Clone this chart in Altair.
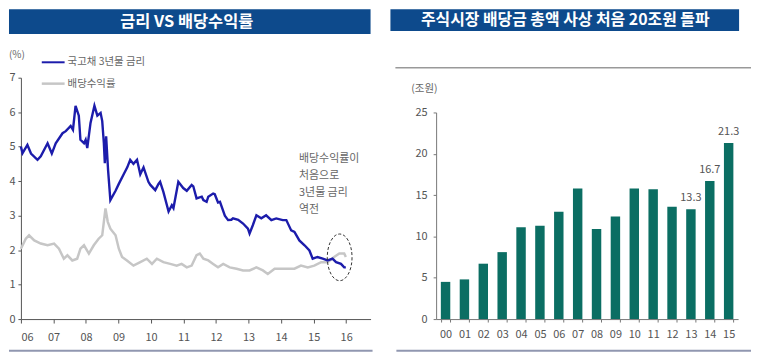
import altair as alt
import pandas as pd

# ---------------- data ----------------
blue_year = [2006.00, 2006.05, 2006.20, 2006.31, 2006.51, 2006.61, 2006.82, 2006.95, 2007.07, 2007.28,
             2007.38, 2007.53, 2007.60, 2007.68, 2007.78, 2007.83, 2007.94, 2007.99, 2008.04, 2008.14,
             2008.26, 2008.35, 2008.45, 2008.50, 2008.55, 2008.58, 2008.62, 2008.68, 2008.75, 2008.91,
             2009.01, 2009.16, 2009.27, 2009.36, 2009.46, 2009.57, 2009.67, 2009.77, 2009.92, 2009.98,
             2010.13, 2010.23, 2010.28, 2010.38, 2010.54, 2010.64, 2010.69, 2010.84, 2010.99, 2011.10,
             2011.25, 2011.30, 2011.40, 2011.56, 2011.61, 2011.71, 2011.76, 2011.91, 2011.96, 2012.06,
             2012.12, 2012.27, 2012.37, 2012.47, 2012.52, 2012.68, 2012.83, 2012.98, 2013.03, 2013.13,
             2013.24, 2013.39, 2013.54, 2013.70, 2013.85, 2014.05, 2014.16, 2014.31, 2014.41, 2014.56,
             2014.72, 2014.87, 2014.97, 2015.12, 2015.28, 2015.43, 2015.58, 2015.69, 2015.84, 2015.94,
             2015.99]
blue_val = [5.00, 4.81, 5.05, 4.80, 4.62, 4.72, 5.10, 4.80, 5.10, 5.39,
            5.45, 5.60, 5.49, 6.18, 5.90, 5.20, 5.10, 5.20, 4.96, 5.69,
            6.19, 5.90, 5.98, 5.74, 5.10, 4.52, 5.30, 4.32, 3.45, 3.72,
            3.92, 4.20, 4.40, 4.62, 4.50, 4.62, 4.20, 4.40, 3.98, 3.89,
            3.74, 3.92, 3.98, 3.69, 3.12, 3.30, 3.22, 3.98, 3.80, 3.72,
            3.89, 3.85, 3.50, 3.55, 3.45, 3.40, 3.55, 3.64, 3.62, 3.38,
            3.40, 3.00, 2.87, 2.88, 2.92, 2.88, 2.77, 2.62, 2.48, 2.72,
            3.01, 2.92, 3.01, 2.87, 2.92, 2.87, 2.87, 2.57, 2.53, 2.28,
            2.14, 1.99, 1.75, 1.80, 1.75, 1.70, 1.75, 1.65, 1.60, 1.50,
            1.50]

gray_year = [2006.00, 2006.15, 2006.25, 2006.41, 2006.61, 2006.82, 2007.02, 2007.17, 2007.32, 2007.43,
             2007.58, 2007.73, 2007.83, 2007.94, 2008.09, 2008.24, 2008.39, 2008.50, 2008.60, 2008.67,
             2008.75, 2008.91, 2009.01, 2009.11, 2009.26, 2009.46, 2009.67, 2009.87, 2010.03, 2010.18,
             2010.38, 2010.59, 2010.79, 2010.94, 2011.10, 2011.25, 2011.40, 2011.50, 2011.61, 2011.76,
             2011.91, 2012.06, 2012.22, 2012.42, 2012.63, 2012.83, 2013.03, 2013.24, 2013.44, 2013.59,
             2013.80, 2014.00, 2014.20, 2014.41, 2014.61, 2014.82, 2015.02, 2015.23, 2015.43, 2015.63,
             2015.79, 2015.94, 2015.99]
gray_val = [2.04, 2.33, 2.43, 2.28, 2.19, 2.14, 2.19, 2.04, 1.75, 1.85,
            1.70, 1.75, 2.04, 2.14, 1.90, 2.14, 2.33, 2.43, 3.21, 2.82,
            2.62, 2.43, 2.04, 1.80, 1.70, 1.55, 1.65, 1.75, 1.60, 1.75,
            1.65, 1.60, 1.55, 1.60, 1.50, 1.55, 1.85, 1.90, 1.75, 1.70,
            1.60, 1.50, 1.60, 1.50, 1.46, 1.41, 1.41, 1.50, 1.41, 1.31,
            1.46, 1.46, 1.46, 1.46, 1.55, 1.50, 1.55, 1.65, 1.65, 1.80,
            1.90, 1.90, 1.80]

bar_years = ["00", "01", "02", "03", "04", "05", "06", "07", "08", "09", "10", "11", "12", "13", "14", "15"]
bar_vals = [4.5, 4.8, 6.7, 8.1, 11.1, 11.3, 13.0, 15.8, 10.9, 12.4, 15.8, 15.7, 13.6, 13.3, 16.7, 21.3]
label_years = ["13", "14", "15"]
label_vals = [13.3, 16.7, 21.3]

x_ticks_left = list(range(2006, 2017))
y_ticks_left = list(range(0, 8))
y_ticks_right = [0, 5, 10, 15, 20, 25]

ellipse_year = [2015.80]
ellipse_val = [1.79]

title_left = "금리 VS 배당수익률"
title_right = "주식시장 배당금 총액 사상 처음 20조원 돌파"
legend_blue = "국고채 3년물 금리"
legend_gray = "배당수익률"
note_lines = ["배당수익률이", "처음으로", "3년물 금리", "역전"]

# ---------------- style ----------------
FONT = "Noto Sans CJK KR"
BLUE = "#1c1cab"
GRAY = "#c6c6c6"
TEAL = "#0b6e63"
BANNER = "#0d4a8c"
BOTTOM = "#9097b0"
LBL = "#555555"
W1, H = 352, 243
W2 = 304

one = pd.DataFrame({"a": [0]})


def rule(x1, x2, y1, y2, color, width, dash=None):
    kw = dict(color=color, strokeWidth=width)
    if dash:
        kw["strokeDash"] = dash
    return alt.Chart(one).mark_rule(**kw).encode(
        x=alt.value(x1), x2=alt.value(x2), y=alt.value(y1), y2=alt.value(y2))


def box(x1, x2, y1, y2, color, opacity=1.0):
    return alt.Chart(one).mark_rect(color=color, opacity=opacity).encode(
        x=alt.value(x1), x2=alt.value(x2), y=alt.value(y1), y2=alt.value(y2))


def label(x, y, txt, size=11, color=LBL, align="left", baseline="middle", weight="normal", lh=None):
    kw = dict(align=align, baseline=baseline, font=FONT, fontSize=size, color=color, fontWeight=weight)
    if lh:
        kw["lineHeight"] = lh
    return alt.Chart(one).mark_text(**kw).encode(
        x=alt.value(x), y=alt.value(y), text=alt.value(txt))


# ---------------- left panel ----------------
df_blue = pd.DataFrame({"year": blue_year, "val": blue_val})
df_gray = pd.DataFrame({"year": gray_year, "val": gray_val})
df_ell = pd.DataFrame({"year": ellipse_year, "val": ellipse_val})

xs1 = alt.Scale(domain=[2006, 2016.75], nice=False, zero=False)
ys1 = alt.Scale(domain=[0, 7], nice=False)

x_axis1 = alt.Axis(values=x_ticks_left, title=None, grid=False,
                   labelExpr="pad(toString(datum.value % 100), 2, '0', 'left')",
                   domainColor="#555", tickColor="#555", tickSize=4, labelPadding=9,
                   labelFont=FONT, labelFontSize=11, labelColor=LBL)
y_axis1 = alt.Axis(values=y_ticks_left, title=None, grid=False,
                   domainColor="#555", tickColor="#555", tickSize=3, labelPadding=3,
                   labelFont=FONT, labelFontSize=11, labelColor=LBL)

gray_line = alt.Chart(df_gray).mark_line(color=GRAY, strokeWidth=2.5).encode(
    x=alt.X("year:Q", scale=xs1, axis=x_axis1),
    y=alt.Y("val:Q", scale=ys1, axis=y_axis1))
blue_line = alt.Chart(df_blue).mark_line(color=BLUE, strokeWidth=2.4).encode(
    x=alt.X("year:Q", scale=xs1, axis=x_axis1),
    y=alt.Y("val:Q", scale=ys1, axis=y_axis1))

ell_path = ("M0.53,0C0.53,0.5523,0.2927,1,0,1C-0.2927,1,-0.53,0.5523,-0.53,0"
            "C-0.53,-0.5523,-0.2927,-1,0,-1C0.2927,-1,0.53,-0.5523,0.53,0Z")
ellipse = alt.Chart(df_ell).mark_point(shape=ell_path, size=2209, filled=False,
                                       stroke="#333", strokeWidth=1, strokeDash=[3, 2],
                                       opacity=1).encode(
    x=alt.X("year:Q", scale=xs1, axis=x_axis1),
    y=alt.Y("val:Q", scale=ys1, axis=y_axis1))

left = alt.layer(
    box(-12, 0, -69, 0, "#ffffff", 0),
    box(-12, 352, -69, -44, BANNER),
    label(167, -56, title_left, size=16.5, color="white", align="center", weight="bold"),
    label(-12, -23, "(%)", size=10, color="#666"),
    rule(21, 44, -15.5, -15.5, BLUE, 2),
    label(47, -16, legend_blue, size=10.5, color="#666"),
    rule(21, 44, 6, 6, GRAY, 2.5),
    label(47, 6, legend_gray, size=10.5, color="#666"),
    gray_line,
    blue_line,
    ellipse,
    label(280, 76, note_lines, size=11, color="#666", baseline="top", lh=17),
    rule(-12, 354, 275, 275, BOTTOM, 2),
).properties(width=W1, height=H)

# ---------------- right panel ----------------
df_bar = pd.DataFrame({"yr": bar_years, "val": bar_vals})
df_lab = pd.DataFrame({"yr": label_years, "val": label_vals})

xs2 = alt.Scale(domain=bar_years, paddingInner=0.5, paddingOuter=0.25)
ys2 = alt.Scale(domain=[0, 25], range=[243, 35], nice=False)

x_axis2 = alt.Axis(title=None, labelAngle=0, tickBand="extent", grid=False,
                   domainColor="#777", tickColor="#777", tickSize=3, labelPadding=7,
                   labelFont=FONT, labelFontSize=11, labelColor=LBL)
y_axis2 = alt.Axis(values=y_ticks_right, title=None, grid=False,
                   domainColor="#777", tickColor="#777", tickSize=3, labelPadding=6,
                   labelFont=FONT, labelFontSize=11, labelColor=LBL)

bars = alt.Chart(df_bar).mark_bar(color=TEAL).encode(
    x=alt.X("yr:N", scale=xs2, axis=x_axis2, sort=bar_years),
    y=alt.Y("val:Q", scale=ys2, axis=y_axis2))
bar_labels = alt.Chart(df_lab).mark_text(baseline="bottom", dy=-6, font=FONT, fontSize=11,
                                         color=LBL).encode(
    x=alt.X("yr:N", scale=xs2, axis=x_axis2, sort=bar_years),
    y=alt.Y("val:Q", scale=ys2, axis=y_axis2),
    text=alt.Text("val:Q", format=".1f"))

right = alt.layer(
    box(-46, 305, -69, -47, BANNER),
    label(130, -58, title_right, size=16, color="white", align="center", weight="bold"),
    rule(-41, 317, -10, -10, "#999999", 1.5),
    label(-25, 11, "(조원)", size=10.5, color="#666"),
    bars,
    bar_labels,
    rule(-40, 317, 275, 275, BOTTOM, 2),
).properties(width=W2, height=H)

chart = alt.hconcat(left, right, spacing=66, bounds="flush").properties(
    padding=0
).configure_view(strokeWidth=0)

chart.save("out.html", embed_options={"renderer": "svg", "actions": False})
